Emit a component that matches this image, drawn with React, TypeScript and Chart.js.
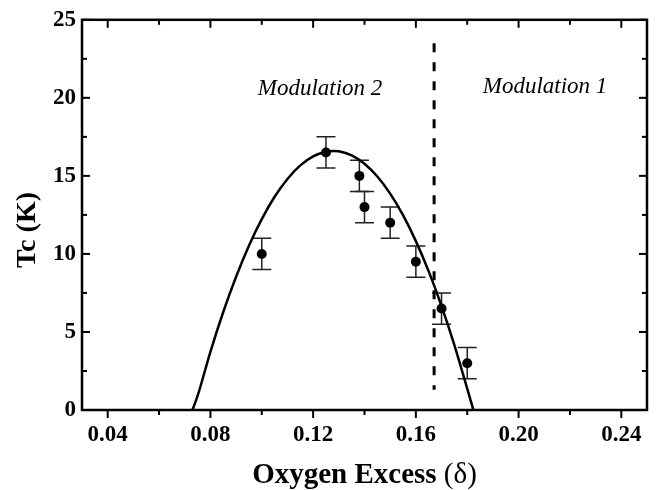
import React, { useEffect, useRef } from "react";
import { Chart, registerables } from "chart.js";

Chart.register(...registerables);

// Measured data points (oxygen excess delta, Tc in K) with +/- error
const deltaValues = [0.1, 0.125, 0.138, 0.14, 0.15, 0.16, 0.17, 0.18];
const tcValues = [10.0, 16.5, 15.0, 13.0, 12.0, 9.5, 6.5, 3.0];
const tcErrors = [1, 1, 1, 1, 1, 1, 1, 1];

// Fitted curve
const fitDelta = [0.073, 0.075, 0.08, 0.085, 0.09, 0.095, 0.1, 0.105, 0.11, 0.115, 0.12, 0.125, 0.128, 0.13, 0.135, 0.14, 0.145, 0.15, 0.155, 0.16, 0.165, 0.17, 0.175, 0.18, 0.1824];
const fitTc = [0, 0.9, 3.73, 6.28, 8.54, 10.53, 12.23, 13.66, 14.8, 15.67, 16.25, 16.55, 16.6, 16.58, 16.32, 15.78, 14.96, 13.86, 12.48, 10.82, 8.88, 6.66, 4.16, 1.37, 0];

// Dashed boundary between modulations
const boundaryDelta = [0.1671, 0.1671];
const boundaryTc = [23.5, 1.3];

// Axis ticks
const xMajorTicks = [0.04, 0.08, 0.12, 0.16, 0.2, 0.24];
const xMinorTicks = [0.06, 0.1, 0.14, 0.18, 0.22];
const yMajorTicks = [0, 5, 10, 15, 20, 25];
const yMinorTicks = [2.5, 7.5, 12.5, 17.5, 22.5];

// Region labels
const regionLabels = ["Modulation 2", "Modulation 1"];
const regionLabelX = [0.1227, 0.2103];
const regionLabelY = [20.2, 20.3];

const xTitleBold = "Oxygen Excess ";
const xTitleNormal = "(\u03B4)";
const yTitle = "Tc (K)";

const SERIF = '"Liberation Serif", "Times New Roman", serif';

const framePlugin = {
  id: "framePlugin",
  beforeDatasetsDraw(chart: any) {
    const { ctx, scales } = chart;
    const xs = scales.x;
    const ys = scales.y;
    ctx.save();
    ctx.strokeStyle = "#222";
    ctx.lineWidth = 1.5;
    for (let i = 0; i < deltaValues.length; i++) {
      const px = xs.getPixelForValue(deltaValues[i]);
      const top = ys.getPixelForValue(tcValues[i] + tcErrors[i]);
      const bot = ys.getPixelForValue(tcValues[i] - tcErrors[i]);
      ctx.beginPath();
      ctx.moveTo(px, top);
      ctx.lineTo(px, bot);
      ctx.moveTo(px - 9.5, top);
      ctx.lineTo(px + 9.5, top);
      ctx.moveTo(px - 9.5, bot);
      ctx.lineTo(px + 9.5, bot);
      ctx.stroke();
    }
    ctx.restore();
  },
  afterDraw(chart: any) {
    const { ctx, chartArea, scales } = chart;
    const { left, right, top, bottom } = chartArea;
    const xs = scales.x;
    const ys = scales.y;
    ctx.save();
    ctx.strokeStyle = "#000";
    ctx.lineWidth = 2;
    const tick = (x1: number, y1: number, x2: number, y2: number) => {
      ctx.beginPath();
      ctx.moveTo(x1, y1);
      ctx.lineTo(x2, y2);
      ctx.stroke();
    };
    xMajorTicks.forEach((v) => {
      const p = xs.getPixelForValue(v);
      tick(p, top, p, top + 8);
      tick(p, bottom, p, bottom + 8);
    });
    xMinorTicks.forEach((v) => {
      const p = xs.getPixelForValue(v);
      tick(p, top, p, top + 5);
      tick(p, bottom, p, bottom + 5);
    });
    yMajorTicks.forEach((v) => {
      const p = ys.getPixelForValue(v);
      tick(left, p, left + 8, p);
      tick(right, p, right - 8, p);
    });
    yMinorTicks.forEach((v) => {
      const p = ys.getPixelForValue(v);
      tick(left, p, left + 5, p);
      tick(right, p, right - 5, p);
    });
    ctx.lineWidth = 2.5;
    ctx.strokeRect(left, top, right - left, bottom - top);

    // region labels
    ctx.fillStyle = "#000";
    ctx.font = `italic 23px ${SERIF}`;
    ctx.textAlign = "center";
    ctx.textBaseline = "alphabetic";
    regionLabels.forEach((t, i) => {
      ctx.fillText(t, xs.getPixelForValue(regionLabelX[i]), ys.getPixelForValue(regionLabelY[i]));
    });

    // x title with mixed weight
    const boldFont = `bold 29px ${SERIF}`;
    const normFont = `29px ${SERIF}`;
    ctx.font = boldFont;
    const w1 = ctx.measureText(xTitleBold).width;
    ctx.font = normFont;
    const w2 = ctx.measureText(xTitleNormal).width;
    const cx = (left + right) / 2;
    const startX = cx - (w1 + w2) / 2;
    ctx.textAlign = "left";
    ctx.font = boldFont;
    ctx.fillText(xTitleBold, startX, 483);
    ctx.font = normFont;
    ctx.fillText(xTitleNormal, startX + w1, 483);

    // y title
    ctx.save();
    ctx.translate(28, 230);
    ctx.rotate(-Math.PI / 2);
    ctx.font = `bold 28px ${SERIF}`;
    ctx.textAlign = "center";
    ctx.textBaseline = "middle";
    ctx.fillText(yTitle, 0, 0);
    ctx.restore();
    ctx.restore();
  },
};

export default function App() {
  const canvasRef = useRef<HTMLCanvasElement | null>(null);

  useEffect(() => {
    document.body.style.margin = "0";
    const canvas = canvasRef.current;
    if (!canvas) return;
    const chart = new Chart(canvas, {
      type: "line",
      data: {
        datasets: [
          {
            label: "fit",
            data: fitDelta.map((x, i) => ({ x, y: fitTc[i] })),
            borderColor: "#000",
            borderWidth: 2.5,
            pointRadius: 0,
            cubicInterpolationMode: "monotone",
            fill: false,
          },
          {
            label: "boundary",
            data: boundaryDelta.map((x, i) => ({ x, y: boundaryTc[i] })),
            borderColor: "#000",
            borderWidth: 3,
            borderDash: [9, 10],
            pointRadius: 0,
            fill: false,
          },
          {
            label: "Tc",
            data: deltaValues.map((x, i) => ({ x, y: tcValues[i] })),
            showLine: false,
            pointRadius: 5,
            pointBackgroundColor: "#000",
            pointBorderColor: "#000",
            pointBorderWidth: 0,
          },
        ],
      },
      options: {
        animation: false,
        responsive: false,
        devicePixelRatio: 1,
        layout: { padding: { top: 17, right: 13, left: 0, bottom: 0 } },
        plugins: {
          legend: { display: false },
          tooltip: { enabled: false },
        },
        scales: {
          x: {
            type: "linear",
            min: 0.03,
            max: 0.25,
            grid: { display: false, drawTicks: false },
            border: { display: false },
            afterBuildTicks: (scale: any) => {
              scale.ticks = xMajorTicks.map((v) => ({ value: v }));
            },
            afterFit: (scale: any) => {
              scale.height = 80;
            },
            ticks: {
              padding: 11,
              color: "#000",
              font: { family: SERIF, size: 23, weight: "bold" },
              callback: (v: any) => Number(v).toFixed(2),
              maxRotation: 0,
              autoSkip: false,
            },
          },
          y: {
            type: "linear",
            min: 0,
            max: 25,
            grid: { display: false, drawTicks: false },
            border: { display: false },
            afterBuildTicks: (scale: any) => {
              scale.ticks = yMajorTicks.map((v) => ({ value: v }));
            },
            afterFit: (scale: any) => {
              scale.width = 82;
            },
            ticks: {
              padding: 6,
              color: "#000",
              font: { family: SERIF, size: 23, weight: "bold" },
              callback: (v: any) => String(v),
            },
          },
        },
      },
      plugins: [framePlugin],
    } as any);
    return () => chart.destroy();
  }, []);

  return (
    <div style={{ width: 660, height: 490, background: "#fff" }}>
      <canvas ref={canvasRef} width={660} height={490} style={{ display: "block" }} />
    </div>
  );
}
